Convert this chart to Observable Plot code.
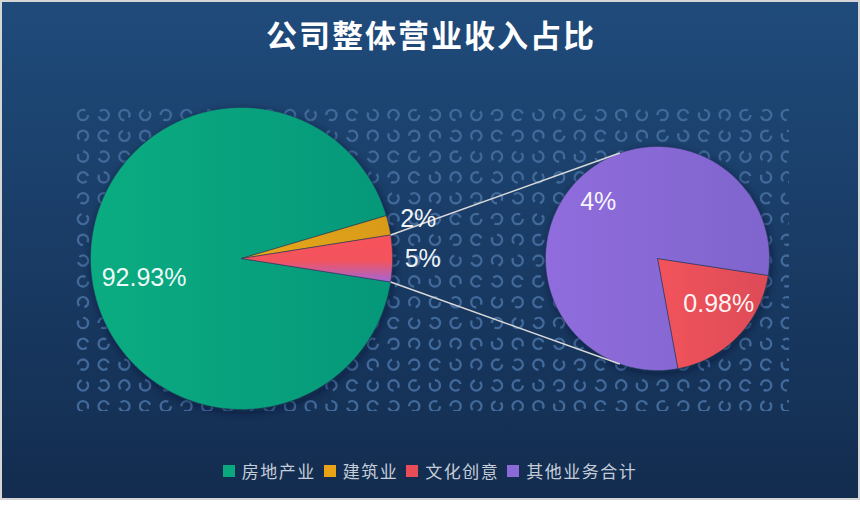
<!DOCTYPE html>
<html>
<head>
<meta charset="utf-8">
<script src="https://cdn.jsdelivr.net/npm/d3@7"></script>
<script src="https://cdn.jsdelivr.net/npm/@observablehq/plot@0.6"></script>
<style>
  html, body { margin: 0; padding: 0; background: #ffffff; }
  #frame {
    position: relative; width: 860px; height: 500px; box-sizing: border-box;
    background: linear-gradient(#1f4b7b, #132c4f);
    box-shadow: inset 0 0 0 2px #d6d6d6; overflow: hidden;
  }
  #title {
    position: absolute; top: 14px; left: 0; width: 862px; text-align: center;
    font-family: "Noto Sans CJK SC", "Noto Sans", sans-serif; font-weight: 700;
    font-size: 31px; line-height: 40px; letter-spacing: 2px; color: #ffffff;
  }
  #chart { position: absolute; top: 70px; left: 0; }
  #legend {
    position: absolute; top: 461px; left: 0; width: 860px;
    display: flex; justify-content: center; align-items: center;
    font-family: "Noto Sans CJK SC", sans-serif; font-size: 17px; line-height: 20px;
    letter-spacing: 1.5px; color: #c5cdd8;
  }
  .item { display: flex; align-items: center; margin: 0 4px; }
  .sw { width: 12px; height: 12px; margin-right: 7px; }
</style>
</head>
<body>
<div id="frame">
  <div id="title">公司整体营业收入占比</div>
  <div id="chart"></div>
  <div id="legend"></div>
</div>
<script>
// ---- data ----
const categories = ["房地产业", "建筑业", "文化创意", "其他业务合计"];
const shares = [92.93, 2.09, 0.98, 4.00];
const mainLabels = ["92.93%", "2%", "5%"];      // 房地产业, 建筑业, 其他组合(文化创意+其他业务合计)
const secondLabels = ["0.98%", "4%"];           // 文化创意, 其他业务合计

// ---- styles ----
const legendColors = ["#0aa87e", "#e8a317", "#e84d57", "#8b69d8"];
const mainFills = ["url(#gGreen)", "url(#gYellow)", "url(#gMix)"];
const secondFills = ["url(#gRed)", "url(#gPurple)"];
const labelFont = "'Liberation Sans Narrow', 'Liberation Sans', Arial, sans-serif";

// ---- layout (data units: main pie radius = 1) ----
const W = 860, H = 380;
const pxPerUnit = 151;
const C1 = [0, 0], R1 = 1;
const C2 = [416 / pxPerUnit, 0], R2 = 112 / pxPerUnit;
const secondStart = -8.7 * Math.PI / 180;
const deg = Math.PI / 180;

const total = d3.sum(shares);
const groupShare = shares[2] + shares[3];
const g = groupShare / total * 2 * Math.PI;

function wedge(c, r, a0, a1) {
  const n = Math.max(2, Math.ceil(Math.abs(a1 - a0) / (0.5 * deg)));
  const pts = [[c[0], c[1]]];
  for (let k = 0; k <= n; k++) {
    const t = a0 + (a1 - a0) * k / n;
    pts.push([c[0] + r * Math.cos(t), c[1] + r * Math.sin(t)]);
  }
  pts.push([c[0], c[1]]);
  return pts;
}

// main pie slices (counter-clockwise, group slice centred on the right)
const mainVals = [shares[0], shares[1], groupShare];
const mainSlices = [];
{
  let a = -g / 2;
  for (const i of [2, 1, 0]) {
    const span = mainVals[i] / total * 2 * Math.PI;
    mainSlices[i] = {a0: a, a1: a + span, fill: mainFills[i], label: mainLabels[i]};
    a += span;
  }
}
// second pie slices (clockwise from secondStart)
const secondVals = [shares[2], shares[3]];
const secondSlices = [];
{
  let a = secondStart;
  secondVals.forEach((v, i) => {
    const span = v / groupShare * 2 * Math.PI;
    secondSlices.push({a0: a - span, a1: a, fill: secondFills[i], label: secondLabels[i]});
    a -= span;
  });
}

// labels
const labelRows = [];
mainSlices.forEach((s, i) => {
  const m = (s.a0 + s.a1) / 2;
  const outside = i > 0;
  const rr = outside ? 1.2 : 0.68;
  labelRows.push({x: C1[0] + R1 * rr * Math.cos(m), y: C1[1] + R1 * rr * Math.sin(m), text: s.label,
                  dx: outside ? 0 : 5, dy: outside ? 0 : 13});
});
secondSlices.forEach((s, i) => {
  const m = (s.a0 + s.a1) / 2;
  labelRows.push({x: C2[0] + R2 * 0.7 * Math.cos(m), y: C2[1] + R2 * 0.7 * Math.sin(m), text: s.label,
                  dx: i === 0 ? 5 : -3, dy: i === 0 ? -9 : -2});
});

// connectors: group slice edge -> tangent point on second pie
const links = [g / 2, -g / 2].map(a => {
  const P = [C1[0] + R1 * Math.cos(a), C1[1] + R1 * Math.sin(a)];
  const v = [P[0] - C2[0], P[1] - C2[1]];
  const d = Math.hypot(v[0], v[1]);
  const phi = Math.atan2(v[1], v[0]);
  const beta = Math.acos(R2 / d);
  const t = phi - Math.sign(P[1]) * beta;
  return {x1: P[0], y1: P[1], x2: C2[0] + R2 * Math.cos(t), y2: C2[1] + R2 * Math.sin(t)};
});

// background decoration: defs, ring pattern, pie shadows
function decor(index, scales) {
  const root = d3.create("svg:g");
  const defs = root.append("defs");
  const lin = (id, x2, y2, stops) => {
    const lg = defs.append("linearGradient").attr("id", id).attr("x1", 0).attr("y1", 0).attr("x2", x2).attr("y2", y2);
    stops.forEach(([o, c]) => lg.append("stop").attr("offset", o).attr("stop-color", c));
  };
  lin("gGreen", 1, 0, [[0, "#0bac81"], [1, "#05987a"]]);
  lin("gYellow", 1, 0, [[0, "#e6a81d"], [1, "#d99a18"]]);
  lin("gMix", 0, 1, [[0, "#f7525b"], [0.55, "#f3545e"], [1, "#a266d8"]]);
  lin("gRed", 1, 0, [[0, "#f2535b"], [1, "#dc4b57"]]);
  lin("gPurple", 1, 0, [[0, "#906cdc"], [1, "#7f65cd"]]);
  const f = defs.append("filter").attr("id", "blur").attr("x", "-20%").attr("y", "-20%").attr("width", "140%").attr("height", "140%");
  f.append("feGaussianBlur").attr("stdDeviation", 5);
  defs.append("clipPath").attr("id", "patClip").append("rect")
    .attr("x", 75).attr("y", 36).attr("width", 714).attr("height", 305);

  const pat = root.append("g").attr("clip-path", "url(#patClip)")
    .attr("fill", "none").attr("stroke", "#41699a").attr("stroke-width", 2.4);
  for (let i = 0; i < 35; i++) {
    for (let j = 0; j < 15; j++) {
      const cx = 83 + i * 20.7, cy = 45 + j * 20.8;
      const rot = ((i * 5 + j * 3 + (i * j) % 3) % 8) * 45;
      pat.append("circle").attr("cx", 0).attr("cy", 0).attr("r", 5.1)
        .attr("stroke-dasharray", "26 6")
        .attr("transform", `translate(${cx},${cy}) rotate(${rot})`);
    }
  }
  const sx = scales.x, sy = scales.y;
  [[C1, R1], [C2, R2]].forEach(([c, r]) => {
    root.append("circle")
      .attr("cx", sx(c[0]) + 2).attr("cy", sy(c[1]) + 3)
      .attr("r", sx(r) - sx(0))
      .attr("fill", "#06132a").attr("fill-opacity", 0.55)
      .attr("filter", "url(#blur)");
  });
  return root.node();
}

const sliceMarks = [...mainSlices.map(s => ({...s, c: C1, r: R1})), ...secondSlices.map(s => ({...s, c: C2, r: R2}))]
  .map(s => Plot.line(wedge(s.c, s.r, s.a0, s.a1), {
    x: d => d[0], y: d => d[1], fill: s.fill,
    stroke: "#26375c", strokeWidth: 0.7, strokeOpacity: 0.8, strokeLinejoin: "round"
  }));

const chart = Plot.plot({
  width: W, height: H,
  marginTop: 0, marginRight: 0, marginBottom: 0, marginLeft: 0,
  x: {domain: [-241 / pxPerUnit, (W - 241) / pxPerUnit], axis: null},
  y: {domain: [-(H - 188) / pxPerUnit, 188 / pxPerUnit], axis: null},
  style: {background: "transparent", overflow: "visible"},
  marks: [
    decor,
    ...sliceMarks,
    Plot.link(links, {x1: "x1", y1: "y1", x2: "x2", y2: "y2", stroke: "#d9d9d9", strokeWidth: 1.5}),
    ...labelRows.map(r => Plot.text([r], {
      x: "x", y: "y", text: "text", dx: r.dx, dy: r.dy,
      fill: "#ffffff", fillOpacity: 0.95, fontSize: 25,
      fontFamily: labelFont
    }))
  ]
});
document.getElementById("chart").appendChild(chart);

// legend
const legend = d3.select("#legend");
categories.forEach((c, i) => {
  const it = legend.append("div").attr("class", "item");
  it.append("div").attr("class", "sw").style("background", legendColors[i]);
  it.append("span").text(c);
});
</script>
</body>
</html>
